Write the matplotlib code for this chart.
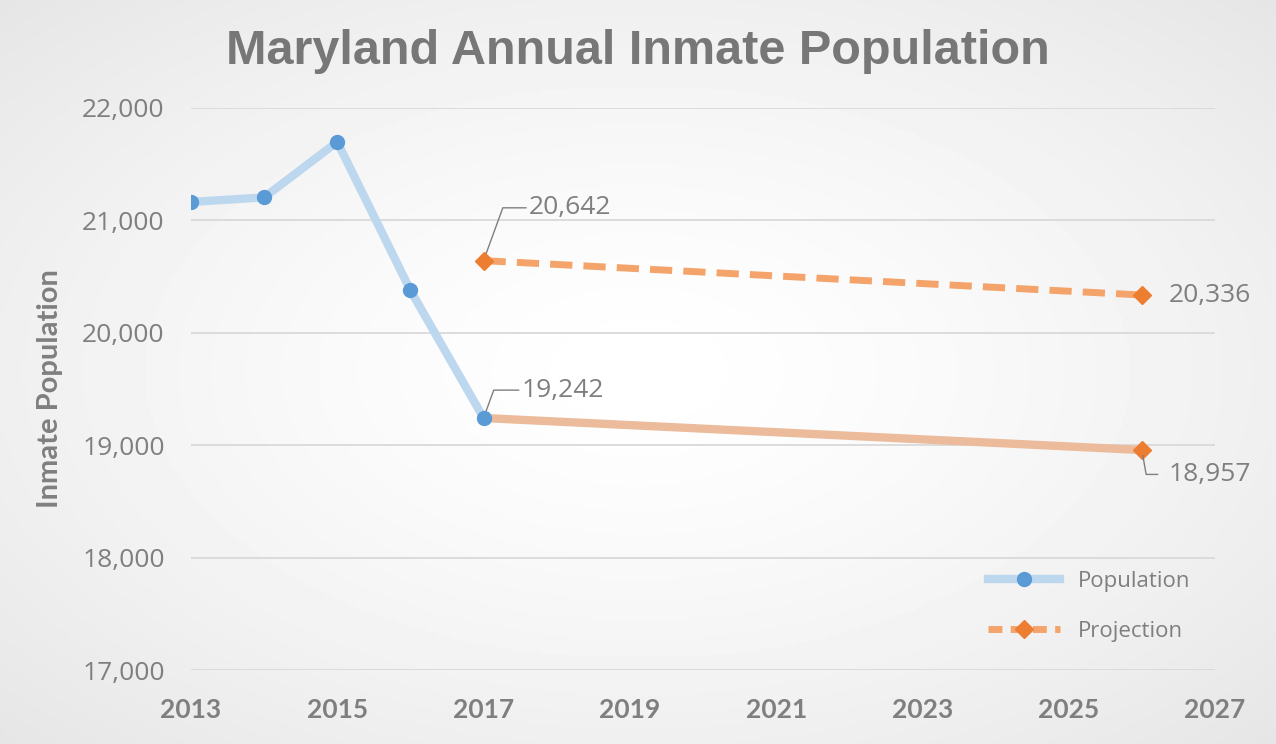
import numpy as np
import matplotlib.pyplot as plt
from matplotlib.lines import Line2D

# data
pop_years = [2013, 2014, 2015, 2016, 2017]
pop_values = [21164, 21205, 21698, 20378, 19242]

proj_years = [2017, 2026]
proj_values = [20642, 20336]

base_years = [2017, 2026]
base_values = [19242, 18957]

x_ticks = [2013, 2015, 2017, 2019, 2021, 2023, 2025, 2027]
y_ticks = [17000, 18000, 19000, 20000, 21000, 22000]

GREY = '#7f7f7f'
BLUE_LINE = '#bdd7ee'
BLUE_MARK = '#5b9bd5'
ORANGE_LINE = '#f4a46a'
ORANGE_MARK = '#ed7d31'
TAN_LINE = '#ebbb9b'

fig = plt.figure(figsize=(12.76, 7.44), dpi=100)

# radial gradient background
bg = fig.add_axes([0, 0, 1, 1], zorder=-10)
gx, gy = np.meshgrid(np.linspace(-1, 1, 400), np.linspace(-1, 1, 240))
r = np.sqrt(gx**2 + gy**2) / np.sqrt(2)
shade = 1.0 - 0.10 * r**1.4
bg.imshow(shade, cmap='gray', vmin=0, vmax=1, aspect='auto', extent=[0, 1, 0, 1])
bg.axis('off')

ax = fig.add_axes([191/1276, 1 - 670/744, (1215-191)/1276, (670-108)/744])
ax.set_facecolor('none')

ax.plot(pop_years, pop_values, color=BLUE_LINE, lw=6, solid_capstyle='round',
        marker='o', ms=10, mfc=BLUE_MARK, mec=BLUE_MARK, zorder=4)
ax.plot(base_years, base_values, color=TAN_LINE, lw=6, zorder=3,
        marker='D', ms=9, mfc=ORANGE_MARK, mec=ORANGE_MARK, markevery=[1])
ax.plot(proj_years, proj_values, color=ORANGE_LINE, lw=5, ls=(0, (3.2, 1.6)),
        marker='D', ms=9, mfc=ORANGE_MARK, mec=ORANGE_MARK, zorder=4)

ax.set_xlim(2013, 2027)
ax.set_ylim(17000, 22000)
ax.set_xticks(x_ticks)
ax.set_yticks(y_ticks)
ax.set_yticklabels([f'{v:,}' for v in y_ticks])
ax.grid(axis='y', color='#d9d9d9', lw=1.3)
ax.set_axisbelow(True)
for s in ax.spines.values():
    s.set_visible(False)
ax.tick_params(length=0)
ax.tick_params(axis='y', labelsize=19, labelcolor=GREY, pad=19)
ax.tick_params(axis='x', labelsize=19, labelcolor=GREY, pad=20)
for lab in ax.get_yticklabels():
    lab.set_family('Open Sans')
for lab in ax.get_xticklabels():
    lab.set_family('Lato')
    lab.set_fontweight('bold')

ax.set_ylabel('Inmate Population', fontsize=21, fontweight='bold', color=GREY,
              family='Lato', labelpad=14)

# data labels with leader lines
lbl = dict(fontsize=19, color=GREY, family='Open Sans', va='center')
ann_kw = dict(arrowprops=dict(arrowstyle='-', color=GREY, lw=1.0,
                              connectionstyle='angle,angleA=0,angleB=70,rad=0',
                              shrinkA=0, shrinkB=4))
ax.annotate(f'{proj_values[0]:,}', xy=(proj_years[0], proj_values[0]),
            xytext=(2017.62, 21112), ha='left', **lbl, **ann_kw)
ax.annotate(f'{base_values[0]:,}', xy=(base_years[0], base_values[0]),
            xytext=(2017.52, 19490), ha='left', **lbl, **ann_kw)
ax.annotate(f'{proj_values[1]:,}', xy=(proj_years[1], proj_values[1]),
            xytext=(2026.37, 20336), ha='left', **lbl)
ax.annotate(f'{base_values[1]:,}', xy=(base_years[1], base_values[1]),
            xytext=(2026.37, 18740), ha='left', **lbl,
            arrowprops=dict(arrowstyle='-', color=GREY, lw=1.0,
                            connectionstyle='angle,angleA=0,angleB=-80,rad=0',
                            shrinkA=6, shrinkB=4))

handles = [
    Line2D([], [], color=BLUE_LINE, lw=6, marker='o', ms=10, mfc=BLUE_MARK, mec=BLUE_MARK),
    Line2D([], [], color=ORANGE_LINE, lw=5, ls=(0, (2, 1.2)), marker='D', ms=9,
           mfc=ORANGE_MARK, mec=ORANGE_MARK),
]
leg = ax.legend(handles, ['Population', 'Projection'], loc='lower right',
                bbox_to_anchor=(0.995, 0.015), frameon=False, handlelength=3.2,
                labelspacing=1.3, prop={'family': 'Open Sans', 'size': 16})
for t in leg.get_texts():
    t.set_color(GREY)

fig.text(638/1276, 1 - 51/744, 'Maryland Annual Inmate Population', ha='center',
         va='center', fontsize=35, fontweight='bold', color='#777777',
         family='Liberation Sans')

fig.savefig('out.png', dpi=100)
